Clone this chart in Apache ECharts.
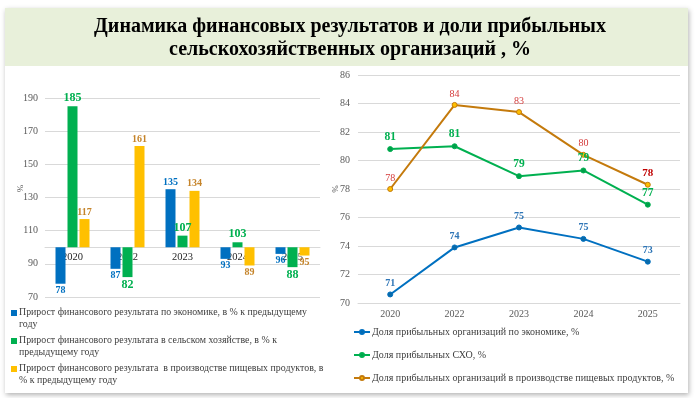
<!DOCTYPE html>
<html>
<head>
<meta charset="utf-8">
<script src="https://cdn.jsdelivr.net/npm/echarts@6/dist/echarts.min.js"></script>
<style>
  html, body { margin: 0; padding: 0; background: #fff; }
  #chart { width: 700px; height: 398px; }
</style>
</head>
<body>
<div id="chart"></div>
<script>
// левая диаграмма: прирост финансового результата, % к предыдущему году
const barYears = ['2020', '2022', '2023', '2024', '2025'];
const barEconomy = [78, 87, 135, 93, 96];
const barAgro = [185, 82, 107, 103, 88];
const barFood = [117, 161, 134, 89, 95];
const barNames = [
    'Прирост финансового результата по экономике, в % к предыдущему году',
    'Прирост финансового результата в сельском хозяйстве, в % к предыдущему году',
    'Прирост финансового результата  в производстве пищевых продуктов, в % к предыдущему году'
];
const barLegendText = [
    'Прирост финансового результата по экономике, в % к предыдущему\nгоду',
    'Прирост финансового результата в сельском хозяйстве, в % к\nпредыдущему году',
    'Прирост финансового результата  в производстве пищевых продуктов, в\n% к предыдущему году'
];

// правая диаграмма: доля прибыльных организаций, %
const lineYears = ['2020', '2022', '2023', '2024', '2025'];
const shareEconomy = [70.6, 73.9, 75.3, 74.5, 72.9];
const shareAgro = [80.8, 81.0, 78.9, 79.3, 76.9];
const shareFood = [78.0, 83.9, 83.4, 80.4, 78.3];
const lineNames = [
    'Доля прибыльных организаций по экономике, %',
    'Доля прибыльных СХО, %',
    'Доля прибыльных организаций в производстве пищевых продуктов, %'
];

const BASE = 100; // столбцы растут от 100%
const LEFT_MIN = 70, LEFT_MAX = 190;
const serif = '"Liberation Serif", "DejaVu Serif", serif';

const leftGrid = { left: 45, right: 380, top: 98, bottom: 101 };
const leftGridHeight = 398 - leftGrid.top - leftGrid.bottom;
// ось годов проходит по линии 100%
const baseOffset = -leftGridHeight * (BASE - LEFT_MIN) / (LEFT_MAX - LEFT_MIN);

const chart = echarts.init(document.getElementById('chart'));

function barSeries(name, values, color, labelColor, labelSize) {
    return {
        name: name,
        type: 'bar',
        xAxisIndex: 0,
        yAxisIndex: 0,
        barWidth: 10,
        barGap: '20%',
        itemStyle: { color: color },
        data: values.map(v => ({
            value: v - BASE,
            label: { position: v >= BASE ? 'top' : 'bottom' }
        })),
        label: {
            show: true,
            distance: 2,
            color: labelColor,
            fontFamily: serif,
            fontWeight: 'bold',
            fontSize: labelSize,
            formatter: p => String(values[p.dataIndex])
        }
    };
}

function lineSeries(name, values, color, symbolColor, labelColor, labelSize, labelBold) {
    return {
        name: name,
        type: 'line',
        xAxisIndex: 1,
        yAxisIndex: 1,
        symbol: 'circle',
        symbolSize: 5,
        lineStyle: { color: color, width: 2 },
        itemStyle: { color: symbolColor, borderColor: color, borderWidth: 1 },
        data: values,
        label: {
            show: true,
            position: 'top',
            distance: 3,
            color: labelColor,
            fontFamily: serif,
            fontWeight: labelBold ? 'bold' : 'normal',
            fontSize: labelSize,
            formatter: p => String(Math.round(p.value))
        }
    };
}

const foodLine = lineSeries(lineNames[2], shareFood, '#c47a0c', '#ffc000', '#d43a3a', 10, false);
// последняя подпись выделена
foodLine.data = shareFood.map((v, i) => i === shareFood.length - 1
    ? { value: v, label: { fontWeight: 'bold', color: '#c00000', fontSize: 11 } }
    : v);

const option = {
    animation: false,
    backgroundColor: '#fff',
    textStyle: { fontFamily: serif },
    graphic: [
        {
            type: 'rect', z: -10,
            shape: { x: 5, y: 8, width: 683, height: 385 },
            style: { fill: '#fff', shadowBlur: 5, shadowOffsetX: 1, shadowOffsetY: 2, shadowColor: 'rgba(0,0,0,0.3)' }
        },
        {
            type: 'rect', z: -9,
            shape: { x: 5, y: 8, width: 683, height: 58 },
            style: { fill: '#e8f0da' }
        }
    ],
    title: {
        text: 'Динамика финансовых результатов и доли прибыльных\nсельскохозяйственных организаций , %',
        left: 'center',
        top: 10,
        textStyle: { fontFamily: serif, fontWeight: 'bold', fontSize: 20, lineHeight: 23, color: '#000' }
    },
    legend: [
        {
            data: barNames,
            left: 11,
            top: 307,
            padding: 0,
            orient: 'vertical',
            itemWidth: 6,
            itemHeight: 17,
            itemGap: 5,
            icon: 'path://M0,0h6v6h-6zM0,17h0.001v0.001h-0.001z',
            formatter: n => barLegendText[barNames.indexOf(n)],
            textStyle: { fontFamily: serif, fontSize: 9.9, lineHeight: 11.5, color: '#404040', padding: [0, 0, 0, -3] }
        },
        {
            data: lineNames,
            left: 353,
            top: 327,
            padding: 0,
            orient: 'vertical',
            itemWidth: 16,
            itemHeight: 5,
            itemGap: 13,
            textStyle: { fontFamily: serif, fontSize: 10, color: '#404040', padding: [0, 0, 0, -3] }
        }
    ],
    grid: [
        leftGrid,
        { left: 358, right: 20, top: 75, bottom: 95 }
    ],
    xAxis: [
        {
            type: 'category',
            gridIndex: 0,
            data: barYears,
            offset: baseOffset,
            axisLine: { onZero: false, lineStyle: { color: '#d9d9d9' } },
            axisTick: { show: false },
            axisLabel: { color: '#262626', fontFamily: serif, fontSize: 10.5, margin: 4 }
        },
        {
            type: 'category',
            gridIndex: 1,
            data: lineYears,
            axisLine: { lineStyle: { color: '#d9d9d9' } },
            axisTick: { show: false },
            axisLabel: { color: '#595959', fontFamily: serif, fontSize: 10, margin: 6 }
        }
    ],
    yAxis: [
        {
            type: 'value',
            gridIndex: 0,
            min: LEFT_MIN - BASE,
            max: LEFT_MAX - BASE,
            interval: 20,
            name: '%',
            nameLocation: 'middle',
            nameGap: 20,
            nameMoveOverlap: false,
            nameTextStyle: { color: '#595959', fontSize: 9, fontFamily: serif, padding: [0, 0, 0, 18] },
            axisLabel: { color: '#595959', fontFamily: serif, fontSize: 10, margin: 7, formatter: v => String(v + BASE) },
            splitLine: { lineStyle: { color: '#d9d9d9' } }
        },
        {
            type: 'value',
            gridIndex: 1,
            min: 70,
            max: 86,
            interval: 2,
            name: '%',
            nameLocation: 'middle',
            nameGap: 18,
            nameMoveOverlap: false,
            nameTextStyle: { color: '#595959', fontSize: 9, fontFamily: serif },
            axisLabel: { color: '#595959', fontFamily: serif, fontSize: 10, margin: 8 },
            splitLine: { lineStyle: { color: '#d9d9d9' } }
        }
    ],
    series: [
        barSeries(barNames[0], barEconomy, '#0070c0', '#0070c0', 10),
        barSeries(barNames[1], barAgro, '#00b050', '#00b050', 12),
        barSeries(barNames[2], barFood, '#ffc000', '#c5842a', 10),
        lineSeries(lineNames[0], shareEconomy, '#0070c0', '#0a6aa8', '#2e75b6', 10, true),
        lineSeries(lineNames[1], shareAgro, '#00b050', '#00a04a', '#00b050', 11.5, true),
        foodLine
    ]
};

chart.setOption(option);
</script>
</body>
</html>
